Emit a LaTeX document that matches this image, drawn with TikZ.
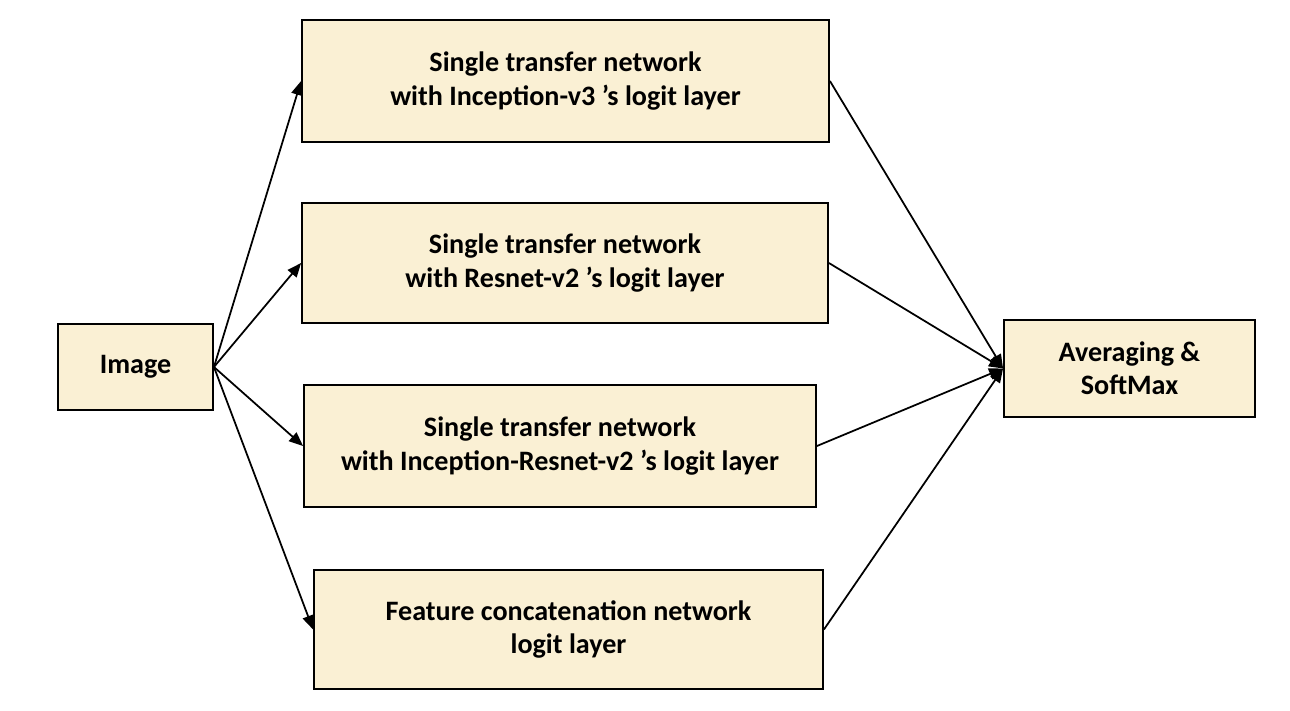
\documentclass[tikz,border=0pt]{standalone}
\usepackage{fontspec}
\setmainfont{Carlito}
\usepackage{xcolor}
\definecolor{boxfill}{RGB}{250,240,212}
\usetikzlibrary{arrows.meta, positioning}

\begin{document}
\begin{tikzpicture}[x=0.02cm, y=-0.02cm,
        blk/.style={rectangle, draw, line width=1.1pt, fill=boxfill, align=center,
            font=\fontsize{16}{19}\selectfont\bfseries},
        arr/.style={-{Triangle[length=8pt, width=6.5pt]}, line width=1pt}]
            \useasboundingbox (0,0) rectangle (1290,710);

            \node[blk, minimum width=3.1cm, minimum height=1.72cm] at (135.5, 367) (img) {Image};
            \node[blk, minimum width=10.54cm, minimum height=2.44cm] at (565.5, 81) (inc) {Single transfer network\\with Inception-v3 ’s logit layer};
            \node[blk, minimum width=10.52cm, minimum height=2.4cm] at (565, 263) (res) {Single transfer network\\with Resnet-v2 ’s logit layer};
            \node[blk, minimum width=10.24cm, minimum height=2.44cm] at (560, 446) (incres) {Single transfer network\\with Inception-Resnet-v2 ’s logit layer};
            \node[blk, minimum width=10.18cm, minimum height=2.38cm] at (568.5, 629.5) (feat) {Feature concatenation network\\logit layer};
            \node[blk, minimum width=5.02cm, minimum height=1.94cm] at (1129.5, 368.5) (avg) {Averaging \&\\SoftMax};

            \draw [arr] (img.east) -- (inc.west);
            \draw [arr] (img.east) -- (res.west);
            \draw [arr] (img.east) -- (incres.west);
            \draw [arr] (img.east) -- (feat.west);
            \draw [arr] (inc.east) -- (avg.west);
            \draw [arr] (res.east) -- (avg.west);
            \draw [arr] (incres.east) -- (avg.west);
            \draw [arr] (feat.east) -- (avg.west);
        \end{tikzpicture}
\end{document}
